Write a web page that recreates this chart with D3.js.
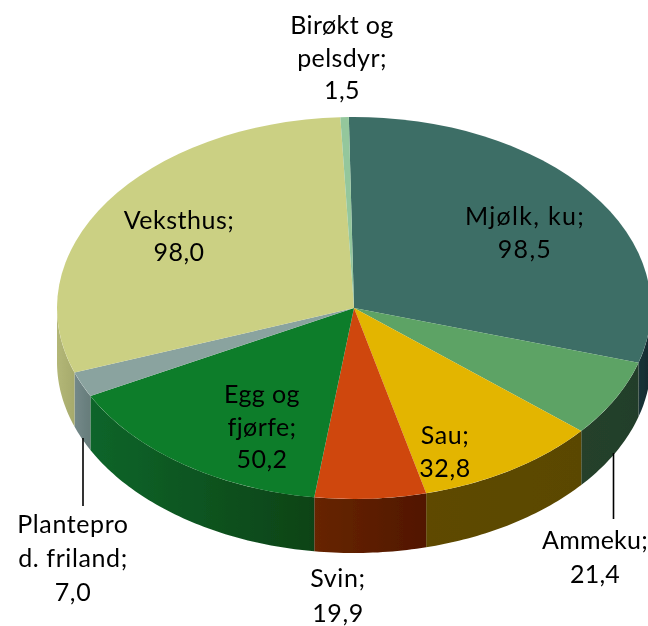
<!DOCTYPE html>
<html><head><meta charset="utf-8">
<script src="https://cdn.jsdelivr.net/npm/d3@7"></script>
<style>html,body{margin:0;padding:0;background:#fff}svg{display:block}</style>
</head><body><div id="c"></div>
<script>
(function(){
const categories = ["Mjølk, ku","Ammeku","Sau","Svin","Egg og fjørfe","Plantepro d. friland","Veksthus","Birøkt og pelsdyr"];
const values = [98.5,21.4,32.8,19.9,50.2,7.0,98.0,1.5];
const topColors = ["#3e6e66","#5da365","#e3b505","#cf470c","#117d2c","#8aa39f","#cbd083","#94c79c"];
const sideLeft = ["#1a3438","#25412b","#5e4a05","#672505","#11652a","#74898a","#b3b777","#7fa886"];
const sideRight = ["#132a30","#233e29","#5a4705","#511603","#0a4316","#667c7a","#a6aa6c","#7fa886"];
const labelLines = [["Mjølk, ku;","98,5"],["Ammeku;","21,4"],["Sau;","32,8"],["Svin;","19,9"],["Egg og","fjørfe;","50,2"],["Plantepro","d. friland;","7,0"],["Veksthus;","98,0"],["Birøkt og","pelsdyr;","1,5"]];
const labelX = [525,595,445,338,262,73,179,342];
const labelFirstBaseline = [225,549,444,587,403,533,229,34];
const labelLineStep = [33,34,32.5,35,32.5,34,32,32.5];
const labelTracking = [1.3,0.2,0.6,0.6,0.4,0.6,0.5,0.4];

const W=648,H=626,cx=354,cy=308,rx=297,ry=191,depth=54;
const startDeg=-1;
const svg=d3.select("#c").append("svg").attr("width",W).attr("height",H);
const defs=svg.append("defs");
defs.append("filter").attr("id","soft").attr("x","-5%").attr("y","-5%").attr("width","110%").attr("height","110%")
  .append("feGaussianBlur").attr("stdDeviation",0.4);

const pie=d3.pie().sort(null).value(d=>d)
  .startAngle(startDeg*Math.PI/180).endAngle((startDeg+360)*Math.PI/180);
const arcs=pie(values);

const root=svg.append("g").attr("filter","url(#soft)");

// walls
const px=a=>cx+rx*Math.sin(a), py=a=>cy-ry*Math.cos(a);
const area=d3.area().x(px).y0(py).y1(a=>py(a)+depth);
const lo=Math.PI/2, hi=3*Math.PI/2;
arcs.forEach((d,i)=>{
  const a0=Math.max(d.startAngle,lo), a1=Math.min(d.endAngle,hi);
  if(a1<=a0) return;
  const id="w"+i;
  const g=defs.append("linearGradient").attr("id",id).attr("x1",0).attr("x2",1).attr("y1",0).attr("y2",0);
  g.append("stop").attr("offset",0).attr("stop-color",sideLeft[i]);
  g.append("stop").attr("offset",1).attr("stop-color",sideRight[i]);
  const n=Math.ceil((a1-a0)*60);
  const samples=d3.range(n+1).map(k=>a0+(a1-a0)*k/n);
  root.append("path").attr("d",area(samples)).attr("fill",`url(#${id})`);
});

// top face
const arcGen=d3.arc().innerRadius(0).outerRadius(rx);
const face=root.append("g").attr("transform",`translate(${cx},${cy}) scale(1,${ry/rx})`);
face.selectAll("path").data(arcs).join("path").attr("d",arcGen).attr("fill",(d,i)=>topColors[i]);

// leader lines
const leaders=[[83,438,506],[613.5,453,519]];
root.selectAll("line").data(leaders).join("line")
  .attr("x1",d=>d[0]).attr("x2",d=>d[0]).attr("y1",d=>d[1]).attr("y2",d=>d[2])
  .attr("stroke","#000").attr("stroke-width",1.6);

// labels
const tg=root.append("g").attr("font-family","Lato, Carlito, sans-serif").attr("font-size",25).attr("fill","#000").attr("text-anchor","middle");
labelLines.forEach((lines,i)=>{
  const t=tg.append("text").attr("letter-spacing",labelTracking[i]);
  lines.forEach((s,k)=>t.append("tspan").attr("x",labelX[i]).attr("y",labelFirstBaseline[i]+k*labelLineStep[i]).text(s));
});
})();
</script></body></html>
